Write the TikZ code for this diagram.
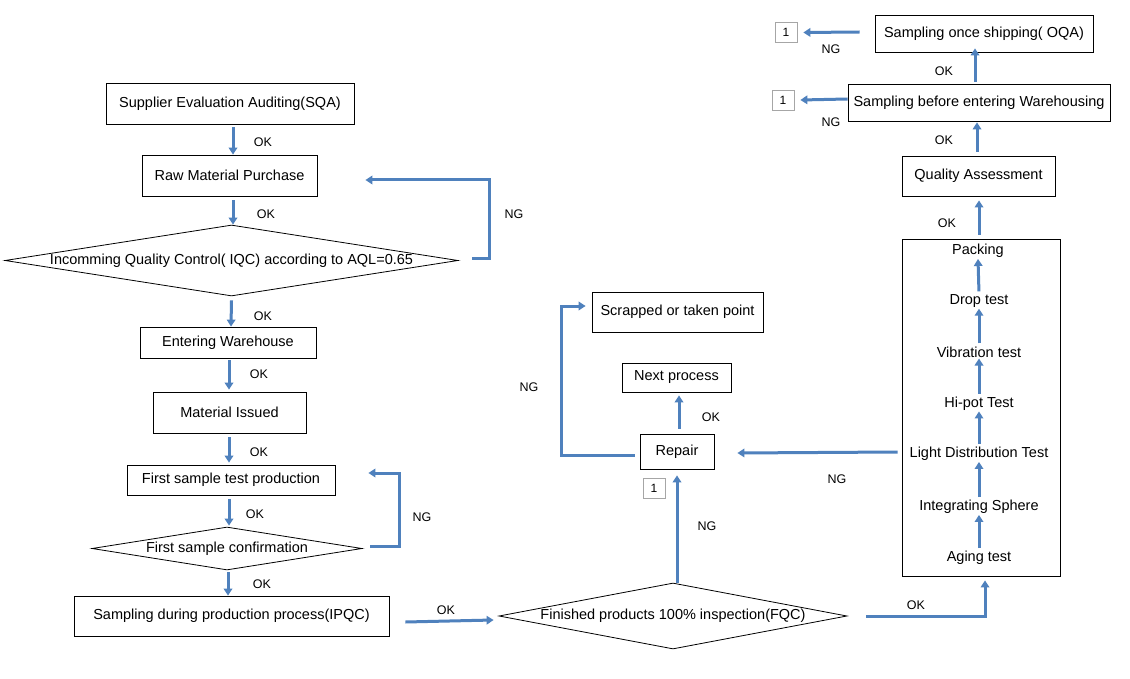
\documentclass[tikz,border=0pt]{standalone}
\usepackage{fontspec}
\setmainfont{Liberation Sans}
\usetikzlibrary{arrows.meta,shapes.geometric,calc}
\definecolor{arrowblue}{HTML}{4F81BD}
\definecolor{onegray}{HTML}{A6A6A6}
\begin{document}
\begin{tikzpicture}[x=1pt,y=-1pt,
  box/.style={draw=black,line width=0.8pt,inner sep=0pt,font=\fontsize{14.5}{17}\selectfont},
  dia/.style={draw=black,line width=0.8pt,diamond,aspect=1,inner sep=0pt,font=\fontsize{14.5}{17}\selectfont},
  item/.style={inner sep=1pt,font=\fontsize{14.5}{17}\selectfont},
  arr/.style={draw=arrowblue,line width=3pt,-{Triangle[length=7pt,width=8.5pt]}},
  lbl/.style={inner sep=0pt,font=\fontsize{12.5}{14}\selectfont},
  onebox/.style={draw=onegray,line width=0.7pt,inner sep=0pt,minimum width=22pt,minimum height=20pt,font=\fontsize{12}{13}\selectfont}]
\fill[white] (0,0) rectangle (1130,679);
\useasboundingbox (0,0) rectangle (1130,679);

% left column
\node[box,minimum width=248pt,minimum height=41pt] (sqa) at (230,103.5) {Supplier Evaluation Auditing(SQA)};
\node[box,minimum width=175pt,minimum height=41pt] (raw) at (229.5,175.5) {Raw Material Purchase};
\node[dia,minimum width=453pt,minimum height=71pt] (iqc) at (231.5,260.5) {\makebox[0pt]{Incomming Quality Control( IQC) according to AQL=0.65}};
\node[box,minimum width=176pt,minimum height=31pt] (ew) at (228,342.5) {Entering Warehouse};
\node[box,minimum width=153pt,minimum height=41pt] (mi) at (229.5,412.5) {Material Issued};
\node[box,minimum width=208pt,minimum height=30pt] (fst) at (231,480) {First sample test production};
\node[dia,minimum width=270pt,minimum height=43pt] (conf) at (227,548.5) {\makebox[0pt]{First sample confirmation}};
\node[box,minimum width=315pt,minimum height=40pt] (ipqc) at (231.5,616) {Sampling during production process(IPQC)};

% middle
\node[dia,minimum width=348pt,minimum height=66pt] (fqc) at (673,616) {\makebox[0pt]{Finished products 100\% inspection(FQC)}};
\node[box,minimum width=74pt,minimum height=35pt] (repair) at (677,451.5) {Repair};
\node[box,minimum width=109pt,minimum height=29pt] (next) at (676.5,377.5) {Next process};
\node[box,minimum width=171pt,minimum height=40pt] (scrap) at (677.5,312) {Scrapped or taken point};
\node[onebox] (one3) at (654,488) {1};

% right column
\node[draw=black,line width=0.8pt,minimum width=158pt,minimum height=337pt,inner sep=0pt] (testbox) at (981,407.5) {};
\node[item] (packing) at (978,251) {Packing};
\node[item] (drop) at (979,301) {Drop test};
\node[item] (vib) at (979,352) {Vibration test};
\node[item] (hipot) at (979,403.5) {Hi-pot Test};
\node[item] (light) at (979,454) {Light Distribution Test};
\node[item] (sphere) at (979,507) {Integrating Sphere};
\node[item] (aging) at (979,558) {Aging test};
\node[box,minimum width=153pt,minimum height=40pt] (qa) at (978.5,176) {Quality Assessment};
\node[box,minimum width=262pt,minimum height=37pt] (sbw) at (979,102.5) {Sampling before entering Warehousing};
\node[box,minimum width=218pt,minimum height=37pt] (oqa) at (984,33.5) {Sampling once shipping( OQA)};
\node[onebox] (one1) at (786,32.5) {1};
\node[onebox] (one2) at (783,100) {1};

% left column arrows
\draw[arr] ($(sqa.south)+(3,3)$) -- ($(raw.north)+(3.5,0)$);
\draw[arr] ($(raw.south)+(3.5,4)$) -- ($(iqc.north)+(1.5,0)$);
\draw[arr] ($(iqc.south)+(0,4)$) -- ($(ew.north)+(3,0)$);
\draw[arr] ($(ew.south)+(1,2)$) -- ($(mi.north)+(-0.5,-2)$);
\draw[arr] ($(mi.south)+(-0.5,4)$) -- ($(fst.north)+(-2,-2)$);
\draw[arr] ($(fst.south)+(-2,4)$) -- ($(conf.north)+(2,-1)$);
\draw[arr] ($(conf.south)+(1,2)$) -- ($(ipqc.north)+(-3.5,0)$);
\draw[arr] ($(iqc.east)+(14,-1.5)$) -- ++(17,0) |- ($(raw.east)+(48,4.5)$);
\draw[arr] ($(conf.east)+(8,-2.5)$) -- ++(29,0) |- ($(fst.east)+(33,-7)$);
\draw[arr] ($(ipqc.east)+(16,6)$) -- ($(fqc.west)+(-5,4)$);

% middle arrows
\draw[arr] (fqc.north -| repair.south) -- ($(repair.south)+(0,6)$);
\draw[arr] ($(repair.north)+(2,-5)$) -- ($(next.south)+(2.5,3)$);
\draw[arr] ($(repair.west)+(-5,3.5)$) -| ($(scrap.west)+(-30,-6)$) -- ($(scrap.west)+(-6,-6)$);
\draw[arr] ($(light.west -| testbox.west)+(-4,-2)$) -- ($(repair.east)+(23,1.5)$);
\draw[arr] ($(fqc.east)+(19,0)$) -| ($(testbox.south)+(4,4)$);

% right column arrows
\foreach \a/\b in {aging/sphere,sphere/light,light/hipot,hipot/vib,vib/drop,drop/packing}
  \draw[arr,shorten <=2pt] (\a.north) -- (\b.south);
\draw[arr] ($(testbox.north)+(-2,-4)$) -- ($(qa.south)+(0.5,4)$);
\draw[arr] ($(qa.north)+(-1.5,-4)$) -- ($(sbw.south)+(-2,1)$);
\draw[arr] ($(sbw.north)+(-4,-2)$) -- ($(oqa.south)+(-9,-4)$);
\draw[arr] ($(sbw.west)+(0,-3.5)$) -- ($(one2.east)+(6,0)$);
\draw[arr] ($(oqa.west)+(-15,-1.5)$) -- ($(one1.east)+(6,0)$);

% labels
\node[lbl] at (263,142) {OK};
\node[lbl] at (266,214) {OK};
\node[lbl] at (514,214) {NG};
\node[lbl] at (263,316) {OK};
\node[lbl] at (259,374) {OK};
\node[lbl] at (259,452) {OK};
\node[lbl] at (255,514) {OK};
\node[lbl] at (422,517) {NG};
\node[lbl] at (262,584) {OK};
\node[lbl] at (446,610) {OK};
\node[lbl] at (707,526) {NG};
\node[lbl] at (711,417) {OK};
\node[lbl] at (529,387) {NG};
\node[lbl] at (837,479) {NG};
\node[lbl] at (916,605) {OK};
\node[lbl] at (947,223) {OK};
\node[lbl] at (944,140) {OK};
\node[lbl] at (831,122) {NG};
\node[lbl] at (944,71) {OK};
\node[lbl] at (831,49) {NG};
\end{tikzpicture}
\end{document}
